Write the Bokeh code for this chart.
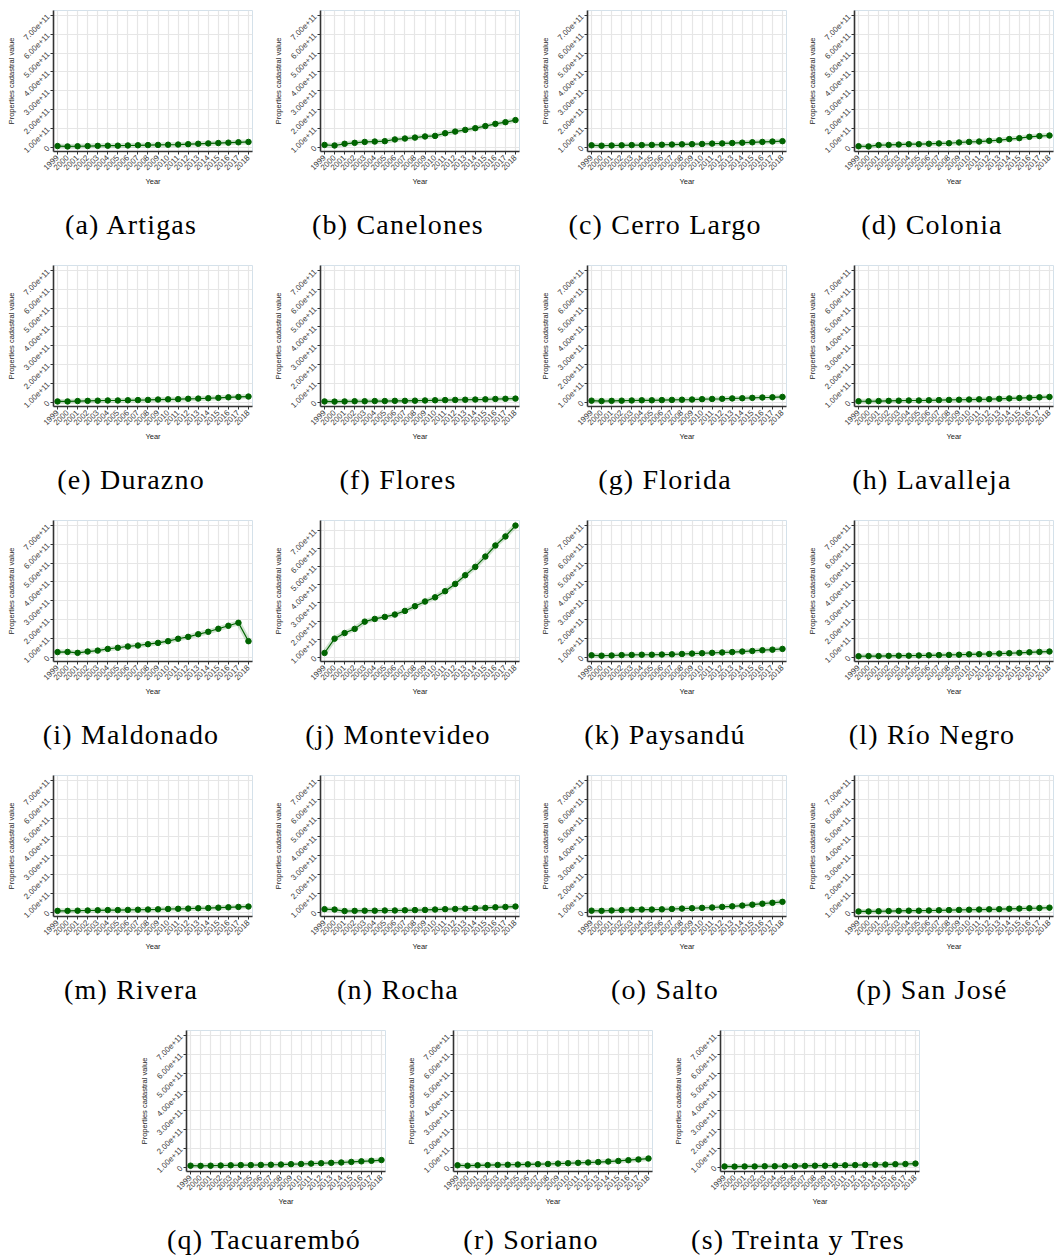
from bokeh.plotting import figure
from bokeh.models import Range1d, FixedTicker, Div, Spacer, PrintfTickFormatter
from bokeh.layouts import row, column
from bokeh.embed import file_html
from bokeh.resources import INLINE
import math

# ---------------- data ----------------
YEARS = [1999, 2000, 2001, 2002, 2003, 2004, 2005, 2006, 2007, 2008,
         2009, 2010, 2011, 2012, 2013, 2014, 2015, 2016, 2017, 2018]
YEAR_LABELS = ["1999", "2000", "2001", "2002", "2003", "2004", "2005", "2006", "2007", "2008",
               "2009", "2010", "2011", "2012", "2013", "2014", "2015", "2016", "2017", "2018"]

Y_TICKS = [0, 100000000000, 200000000000, 300000000000, 400000000000,
           500000000000, 600000000000, 700000000000]
Y_TICK_LABELS = ["0", "1.00e+11", "2.00e+11", "3.00e+11", "4.00e+11",
                 "5.00e+11", "6.00e+11", "7.00e+11"]

UNIT = 1e11  # values below are in units of 1e11

artigas = [0.06, 0.04, 0.05, 0.06, 0.07, 0.08, 0.08, 0.09, 0.10, 0.11, 0.12, 0.13, 0.14, 0.16, 0.18, 0.20, 0.22, 0.24, 0.26, 0.28]
canelones = [0.12, 0.09, 0.18, 0.23, 0.28, 0.30, 0.32, 0.41, 0.46, 0.51, 0.57, 0.60, 0.74, 0.83, 0.92, 1.01, 1.12, 1.24, 1.33, 1.44]
cerro_largo = [0.10, 0.08, 0.09, 0.10, 0.11, 0.11, 0.12, 0.13, 0.14, 0.15, 0.16, 0.17, 0.19, 0.20, 0.22, 0.24, 0.26, 0.28, 0.30, 0.32]
colonia = [0.05, 0.04, 0.11, 0.12, 0.14, 0.16, 0.16, 0.18, 0.20, 0.21, 0.25, 0.28, 0.30, 0.34, 0.37, 0.43, 0.48, 0.55, 0.59, 0.62]
durazno = [0.04, 0.04, 0.06, 0.07, 0.08, 0.09, 0.09, 0.10, 0.11, 0.12, 0.14, 0.15, 0.16, 0.18, 0.19, 0.21, 0.23, 0.26, 0.28, 0.30]
flores = [0.04, 0.03, 0.04, 0.05, 0.05, 0.06, 0.06, 0.07, 0.07, 0.08, 0.09, 0.10, 0.11, 0.12, 0.13, 0.14, 0.15, 0.17, 0.18, 0.19]
florida = [0.08, 0.06, 0.07, 0.08, 0.09, 0.10, 0.10, 0.11, 0.12, 0.13, 0.14, 0.16, 0.17, 0.18, 0.20, 0.21, 0.23, 0.25, 0.26, 0.28]
lavalleja = [0.05, 0.05, 0.06, 0.07, 0.08, 0.09, 0.09, 0.10, 0.11, 0.12, 0.13, 0.14, 0.15, 0.16, 0.18, 0.20, 0.22, 0.24, 0.26, 0.28]
maldonado = [0.27, 0.28, 0.23, 0.30, 0.35, 0.44, 0.50, 0.57, 0.62, 0.69, 0.76, 0.85, 0.98, 1.08, 1.22, 1.35, 1.51, 1.67, 1.83, 0.85]
montevideo = [0.24, 1.03, 1.34, 1.57, 1.97, 2.12, 2.23, 2.36, 2.56, 2.82, 3.08, 3.31, 3.65, 4.05, 4.53, 4.99, 5.56, 6.17, 6.67, 7.27]
paysandu = [0.10, 0.08, 0.09, 0.11, 0.12, 0.13, 0.13, 0.14, 0.15, 0.17, 0.19, 0.21, 0.23, 0.25, 0.27, 0.30, 0.33, 0.37, 0.40, 0.44]
rio_negro = [0.05, 0.06, 0.06, 0.07, 0.08, 0.08, 0.09, 0.10, 0.11, 0.12, 0.13, 0.15, 0.16, 0.17, 0.19, 0.21, 0.23, 0.26, 0.28, 0.30]
rivera = [0.07, 0.07, 0.08, 0.09, 0.10, 0.11, 0.11, 0.12, 0.13, 0.14, 0.15, 0.17, 0.18, 0.19, 0.21, 0.22, 0.24, 0.26, 0.28, 0.30]
rocha = [0.16, 0.14, 0.06, 0.07, 0.08, 0.08, 0.09, 0.09, 0.10, 0.11, 0.12, 0.14, 0.16, 0.17, 0.19, 0.21, 0.23, 0.26, 0.28, 0.30]
salto = [0.08, 0.07, 0.09, 0.11, 0.13, 0.14, 0.14, 0.15, 0.17, 0.19, 0.21, 0.23, 0.25, 0.28, 0.31, 0.35, 0.40, 0.45, 0.50, 0.55]
san_jose = [0.04, 0.04, 0.05, 0.06, 0.07, 0.08, 0.08, 0.09, 0.10, 0.11, 0.12, 0.13, 0.14, 0.15, 0.16, 0.18, 0.19, 0.21, 0.22, 0.24]
tacuarembo = [0.08, 0.07, 0.08, 0.09, 0.10, 0.11, 0.11, 0.12, 0.13, 0.14, 0.16, 0.17, 0.19, 0.21, 0.23, 0.25, 0.28, 0.31, 0.34, 0.38]
soriano = [0.10, 0.08, 0.10, 0.11, 0.12, 0.13, 0.14, 0.15, 0.16, 0.17, 0.19, 0.21, 0.23, 0.25, 0.27, 0.30, 0.33, 0.37, 0.41, 0.46]
treinta_y_tres = [0.04, 0.03, 0.04, 0.04, 0.05, 0.05, 0.06, 0.06, 0.07, 0.08, 0.08, 0.09, 0.10, 0.11, 0.12, 0.13, 0.14, 0.16, 0.17, 0.19]

CAPTIONS = ["(a) Artigas", "(b) Canelones", "(c) Cerro Largo", "(d) Colonia",
            "(e) Durazno", "(f) Flores", "(g) Florida", "(h) Lavalleja",
            "(i) Maldonado", "(j) Montevideo", "(k) Paysandú", "(l) Río Negro",
            "(m) Rivera", "(n) Rocha", "(o) Salto", "(p) San José",
            "(q) Tacuarembó", "(r) Soriano", "(s) Treinta y Tres"]
SERIES = [artigas, canelones, cerro_largo, colonia,
          durazno, flores, florida, lavalleja,
          maldonado, montevideo, paysandu, rio_negro,
          rivera, rocha, salto, san_jose,
          tacuarembo, soriano, treinta_y_tres]

# ---------------- styling ----------------
GREEN = "#006400"
AXIS_COL = "#333333"
GRID_COL = "#E6E6E6"
OUTLINE_COL = "#D4E1EA"
PITCH_X = 267
PITCH_Y = 255
TOP_B = 10
FRAME_H = 141
BOTTOM_B = 47
FIG_H = TOP_B + FRAME_H + BOTTOM_B
LEFT_B = 53
FRAME_W = 199
CAPTION_CENTER = 131   # caption centre, px from the cell's left edge
PAGE_W = 1055
PAGE_H = 1257


def make_fig(vals, width, right_border, y_hi):
    p = figure(width=width, height=FIG_H,
               x_range=Range1d(1998.6, 2018.4),
               y_range=Range1d(-0.23 * UNIT, y_hi),
               output_backend="svg", toolbar_location=None,
               min_border_left=LEFT_B, min_border_right=right_border,
               min_border_top=TOP_B, min_border_bottom=BOTTOM_B, margin=0,
               background_fill_color="white", border_fill_color="white")
    p.outline_line_color = OUTLINE_COL
    p.outline_line_width = 1

    yv = [v * UNIT for v in vals]
    p.line(YEARS, yv, line_color=GREEN, line_width=5, line_alpha=0.18)
    p.line(YEARS, yv, line_color=GREEN, line_width=1.2)
    p.scatter(YEARS, yv, size=5.5, fill_color=GREEN, line_color=GREEN)

    # x axis
    p.xaxis.ticker = FixedTicker(ticks=YEARS)
    p.xaxis.major_label_overrides = {y: lab for y, lab in zip(YEARS, YEAR_LABELS)}
    p.xaxis.major_label_orientation = math.pi / 4
    p.xaxis.axis_label = "Year"
    # y axis
    p.yaxis.ticker = FixedTicker(ticks=Y_TICKS)
    p.yaxis.formatter = PrintfTickFormatter(format="%.2e")
    p.yaxis.major_label_overrides = {t: lab for t, lab in zip(Y_TICKS, Y_TICK_LABELS)}
    p.yaxis.major_label_orientation = math.pi / 4
    p.yaxis.axis_label = "Properties cadastral value"

    for ax in (p.xaxis[0], p.yaxis[0]):
        ax.axis_line_color = AXIS_COL
        ax.axis_line_width = 1.6
        ax.major_tick_line_color = AXIS_COL
        ax.major_tick_line_width = 1
        ax.major_tick_out = 3
        ax.major_tick_in = 0
        ax.minor_tick_line_color = None
        ax.major_label_text_font = "Liberation Sans"
        ax.major_label_text_font_size = "8px"
        ax.major_label_text_color = "#3C3C3C"
        ax.major_label_standoff = 2
        ax.axis_label_text_font = "Liberation Sans"
        ax.axis_label_text_font_size = "7.5px"
        ax.axis_label_text_font_style = "normal"
        ax.axis_label_text_color = "#222222"
    p.xaxis.axis_label_standoff = 1
    p.yaxis.axis_label_standoff = 3

    p.xgrid.ticker = FixedTicker(ticks=YEARS)
    p.ygrid.ticker = FixedTicker(ticks=Y_TICKS)
    for g in (p.xgrid[0], p.ygrid[0]):
        g.grid_line_color = GRID_COL
        g.grid_line_width = 1.2
    return p


def make_caption(text, width, height, pad_top):
    html = ('<div style="width:%dpx;text-align:center;'
            "font-family:'Liberation Serif',serif;font-size:28px;line-height:30px;"
            'letter-spacing:1.2px;padding-top:%dpx;color:#000000;white-space:nowrap">%s</div>'
            % (2 * CAPTION_CENTER, pad_top, text))
    return Div(text=html, width=width, height=height, margin=0)


rows = []
for r in range(5):
    start = r * 4
    idxs = list(range(start, min(start + 4, len(SERIES))))
    cells = []
    last_row = (r == 4)
    div_h = (PAGE_H - 1 - 4 * PITCH_Y - FIG_H) if last_row else (PITCH_Y - FIG_H)
    pad = 7 if last_row else 12
    for j, i in enumerate(idxs):
        if (not last_row) and j == 3:
            w = PAGE_W - 3 * PITCH_X
        else:
            w = PITCH_X
        rb = w - LEFT_B - FRAME_W
        y_hi = 7.55 * UNIT if SERIES[i] is montevideo else 7.27 * UNIT
        fig = make_fig(SERIES[i], w, rb, y_hi)
        cap = make_caption(CAPTIONS[i], w, div_h, pad)
        cells.append(column(fig, cap, spacing=0, margin=0))
    if last_row:
        cells.insert(0, Spacer(width=133, height=FIG_H + div_h, margin=0))
    rows.append(row(*cells, spacing=0, margin=0))

layout = column(*rows, spacing=0, margin=0)

open("out.html", "w").write(file_html(layout, INLINE, title="Properties cadastral value"))
